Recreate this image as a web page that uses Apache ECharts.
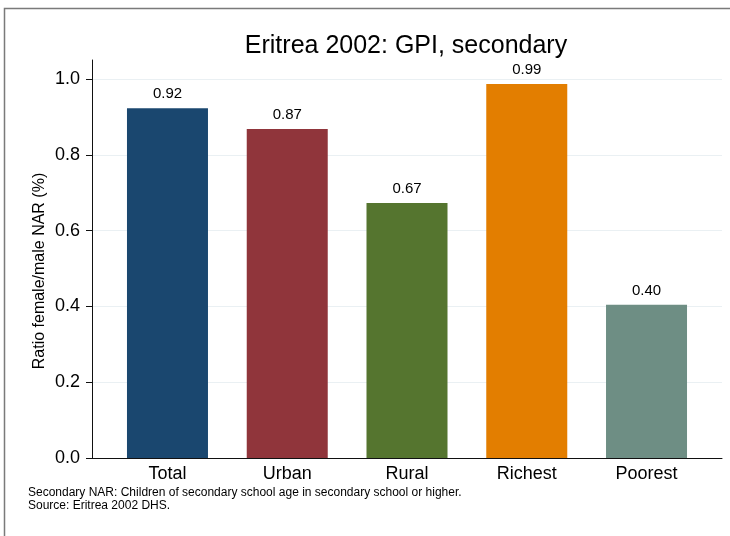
<!DOCTYPE html>
<html>
<head>
<meta charset="utf-8">
<script src="https://cdn.jsdelivr.net/npm/echarts@6/dist/echarts.min.js"></script>
<style>
  html, body { margin: 0; padding: 0; background: #fff; }
  #chart { width: 730px; height: 536px; }
</style>
</head>
<body>
<div id="chart"></div>
<script>
const categories = ["Total", "Urban", "Rural", "Richest", "Poorest"]
const values = [0.923, 0.868, 0.673, 0.987, 0.404]
const colors = ["#1a476f", "#90353b", "#55752f", "#e37e00", "#6e8e84"]
const yTicks = [0, 0.2, 0.4, 0.6, 0.8, 1.0]

const font = "'Liberation Sans', Arial, sans-serif"
const chart = echarts.init(document.getElementById("chart"))

chart.setOption({
  backgroundColor: "#fff",
  animation: false,
  title: {
    text: "Eritrea 2002: GPI, secondary",
    left: 401,
    top: 29,
    textAlign: "center",
    textStyle: { fontFamily: font, fontSize: 25, fontWeight: "normal", color: "#000" }
  },
  graphic: [
    {
      type: "rect",
      shape: { x: 4.5, y: 8.5, width: 740, height: 540 },
      style: { fill: null, stroke: "#7a7a7a", lineWidth: 1.5 },
      silent: true
    },
    {
      type: "text",
      x: 40,
      y: 271,
      rotation: Math.PI / 2,
      style: {
        text: "Ratio female/male NAR (%)",
        font: "16px " + font,
        fill: "#000",
        align: "center",
        verticalAlign: "middle"
      }
    },
    {
      type: "text",
      left: 28,
      top: 486,
      style: {
        text: "Secondary NAR: Children of secondary school age in secondary school or higher.\nSource: Eritrea 2002 DHS.",
        font: "12px " + font,
        lineHeight: 13,
        fill: "#000"
      }
    }
  ],
  grid: [
    { left: 92, right: 8, top: 60, bottom: 78 },
    { left: 107.6, right: 23.6, top: 60, bottom: 78 }
  ],
  xAxis: [
    {
      gridIndex: 0,
      type: "value",
      min: 0,
      max: 1,
      axisLine: { show: true, onZero: false, lineStyle: { color: "#111", width: 1 } },
      axisTick: { show: false },
      axisLabel: { show: false },
      splitLine: { show: false }
    },
    {
      gridIndex: 1,
      type: "category",
      data: categories,
      axisLine: { show: false },
      axisTick: { show: false },
      axisLabel: { fontFamily: font, fontSize: 18, color: "#000", margin: 7 }
    }
  ],
  yAxis: [
    {
      gridIndex: 0,
      type: "value",
      min: 0,
      max: 1.05,
      interval: 0.2,
      axisLine: { show: true, lineStyle: { color: "#111", width: 1 } },
      axisTick: { show: true, length: 6, lineStyle: { color: "#111" } },
      axisLabel: {
        fontFamily: font, fontSize: 18, color: "#000", margin: 12,
        showMaxLabel: false,
        formatter: v => yTicks.some(t => Math.abs(t - v) < 1e-6) ? v.toFixed(1) : ""
      },
      splitLine: { show: true, showMinLine: false, showMaxLine: false, lineStyle: { color: "#eaf0f3", width: 1 } }
    },
    {
      gridIndex: 1,
      type: "value",
      min: 0,
      max: 1.05,
      show: false,
      splitLine: { show: false }
    }
  ],
  series: [
    {
      type: "bar",
      xAxisIndex: 1,
      yAxisIndex: 1,
      barWidth: 81,
      data: values.map((v, i) => ({ value: v, itemStyle: { color: colors[i] } })),
      label: {
        show: true,
        position: "top",
        distance: 7,
        fontFamily: font,
        fontSize: 15,
        color: "#000",
        formatter: p => p.value.toFixed(2)
      }
    }
  ]
})
</script>
</body>
</html>
